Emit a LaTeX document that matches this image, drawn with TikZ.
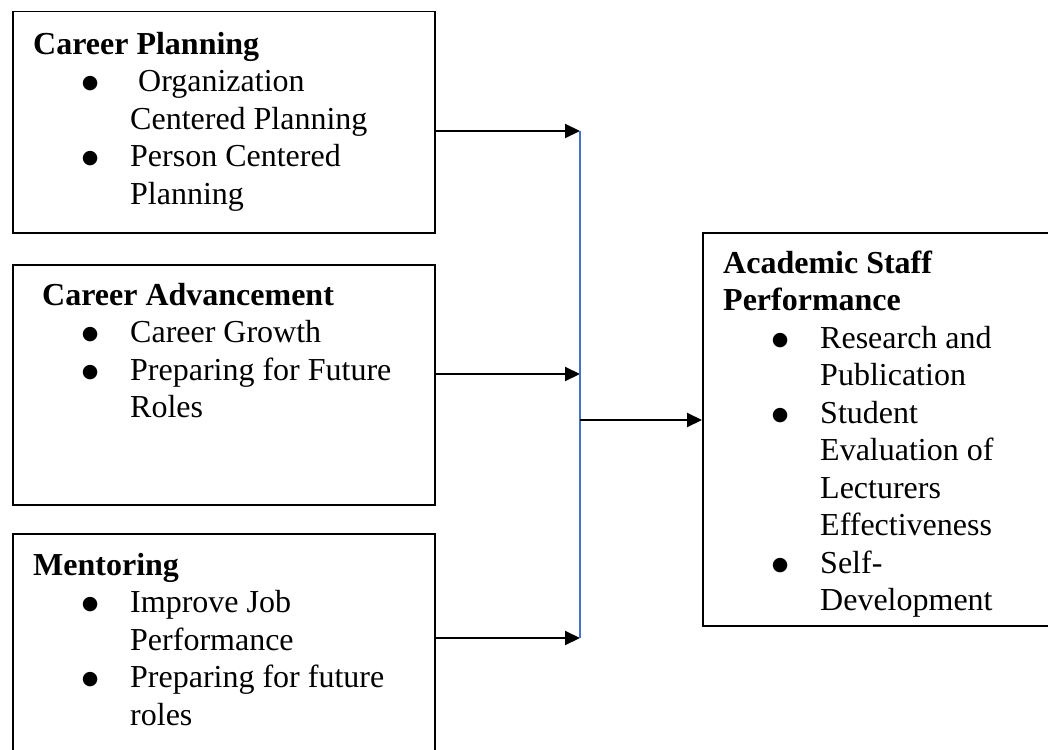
\documentclass[tikz,border=0pt]{standalone}
\usepackage{fontspec}
\setmainfont{Liberation Serif}
\newfontfamily\dotfont{DejaVu Sans}
\usetikzlibrary{arrows.meta, positioning, calc}
\definecolor{busblue}{RGB}{68,114,196}

\newcommand{\bul}{\hspace*{57pt}\makebox[0pt]{\raisebox{3pt}{\dotfont\fontsize{19}{0}\selectfont ●}}\hspace*{40pt}}
\newcommand{\cnt}{\hspace*{97pt}}

\begin{document}
\begin{tikzpicture}[x=1pt, y=-1pt,
  box/.style={draw, line width=1.5pt, anchor=north west, inner sep=0pt},
  body/.style={anchor=north west, inner sep=0pt, align=left,
               font=\fontsize{32}{37.5}\selectfont},
  arrow/.style={-{Triangle[length=15pt, width=14pt]}, line width=2pt},
  bus/.style={busblue, line width=1.5pt}]

  \useasboundingbox (0,0) rectangle (1048,749);

  \node[box, minimum width=422pt, minimum height=221pt] (plan) at (12,11)  {};
  \node[box, minimum width=422pt, minimum height=240pt] (adv)  at (12,264) {};
  \node[box, minimum width=422pt, minimum height=260pt] (ment) at (12,533) {};
  \node[box, minimum width=370pt, minimum height=393pt] (perf) at (702,232) {};

  \node[body] (plantxt) at (33,28)
    {\strut\textbf{Career Planning}\\
     \bul\hspace*{8pt}Organization\\
     \cnt Centered Planning\\
     \bul Person Centered\\
     \cnt Planning};
  \node[body] (advtxt) at (33,279)
    {\strut\hspace*{9pt}\textbf{Career Advancement}\\
     \bul Career Growth\\
     \bul Preparing for Future\\
     \cnt Roles};
  \node[body] (menttxt) at (33,549)
    {\strut\textbf{Mentoring}\\
     \bul Improve Job\\
     \cnt Performance\\
     \bul Preparing for future\\
     \cnt roles};
  \node[body] (perftxt) at (723,247)
    {\strut\textbf{Academic Staff}\\
     \textbf{Performance}\\
     \bul Research and\\
     \cnt Publication\\
     \bul Student\\
     \cnt Evaluation of\\
     \cnt Lecturers\\
     \cnt Effectiveness\\
     \bul Self-\\
     \cnt Development};

  \coordinate (j1)   at (580,131);
  \coordinate (j2)   at (580,374);
  \coordinate (j3)   at (580,638);
  \coordinate (jout) at (580,420);

  \draw[arrow] (plan.east |- j1) -- (j1);
  \draw[arrow] (adv.east |- j2)  -- (j2);
  \draw[arrow] (ment.east |- j3) -- (j3);
  \draw[bus]   (j1) -- (j3);
  \draw[arrow] (jout) -- (perf.west |- jout);
\end{tikzpicture}
\end{document}
